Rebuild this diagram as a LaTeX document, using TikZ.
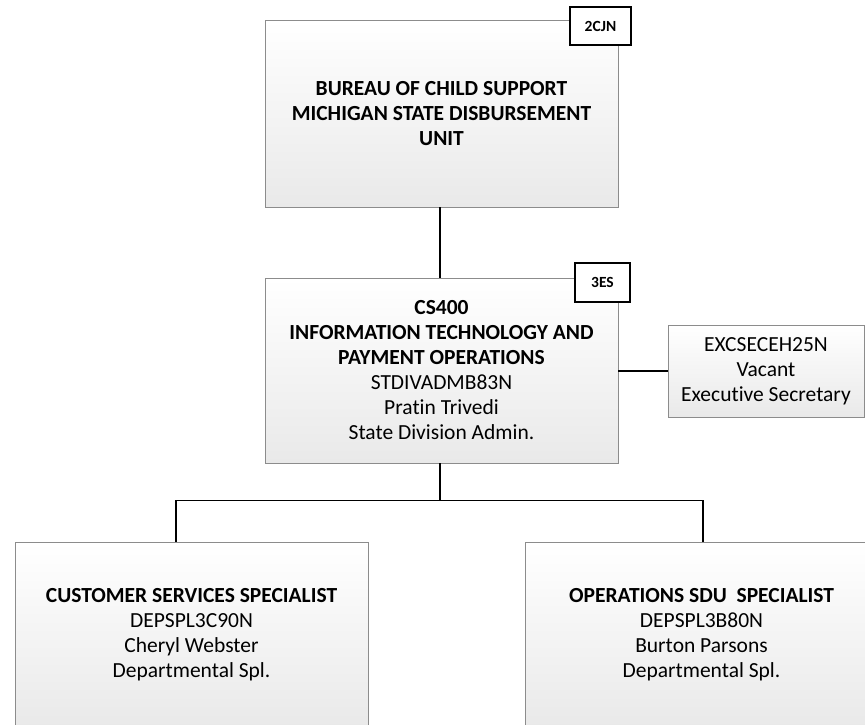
\documentclass[tikz,border=0pt]{standalone}
\usepackage{fontspec}
\setmainfont{Carlito}[Ligatures=NoCommon]
\usepackage{tikz}
\usetikzlibrary{positioning}
\definecolor{edgex}{HTML}{8C8C8C}
\definecolor{shadex}{HTML}{E9E9E9}
\tikzset{
  unit/.style={draw=edgex,line width=0.9pt,top color=white,bottom color=shadex,align=center,inner sep=0pt,font=\fontsize{21.5}{25}\selectfont},
  tag/.style={draw=black,line width=1.7pt,fill=white,inner sep=0pt,font=\fontsize{15.5}{17}\selectfont\bfseries},
  ln/.style={draw=black,line width=1.6pt}
}

\begin{document}
\begin{tikzpicture}[x=1pt,y=-1pt]
\useasboundingbox (0,0) rectangle (865,725);
\node[unit,minimum width=353pt,minimum height=187pt] (bur) at (441.5,113.5) {\textbf{BUREAU OF CHILD SUPPORT}\\\textbf{MICHIGAN STATE DISBURSEMENT}\\\textbf{UNIT}};
\node[unit,minimum width=353pt,minimum height=185pt] (ito) at (441.5,370.5) {\textbf{CS400}\\\textbf{INFORMATION TECHNOLOGY AND}\\\textbf{PAYMENT OPERATIONS}\\STDIVADMB83N\\Pratin Trivedi\\State Division Admin.};
\node[unit,minimum width=196pt,minimum height=92pt] (sec) at (766,371) {EXCSECEH25N\\Vacant\\Executive Secretary};
\node[unit,minimum width=353pt,minimum height=186pt] (css) at (191.5,635) {\textbf{CUSTOMER SERVICES SPECIALIST}\\DEPSPL3C90N\\Cheryl Webster\\Departmental Spl.};
\node[unit,minimum width=353pt,minimum height=186pt] (ops) at (701.5,635) {\textbf{OPERATIONS SDU\ \ SPECIALIST}\\DEPSPL3B80N\\Burton Parsons\\Departmental Spl.};
% connectors
\draw[ln] ([xshift=-1.5pt]bur.south) -- ([xshift=-1.5pt]ito.north);
\draw[ln] (sec.west) -- (sec.west -| ito.east);
\draw[ln] ([xshift=-1.5pt]ito.south) -- ++(0,37) coordinate (bus);
\draw[ln] ([xshift=-15.5pt]css.north) |- (bus) -| ([xshift=1.5pt]ops.north);
% position tags
\node[tag,minimum width=61pt,minimum height=38pt] (t1) at (600.5,26) {2CJN};
\node[tag,minimum width=55pt,minimum height=39pt] (t2) at (602.5,282.5) {3ES};
\end{tikzpicture}
\end{document}
